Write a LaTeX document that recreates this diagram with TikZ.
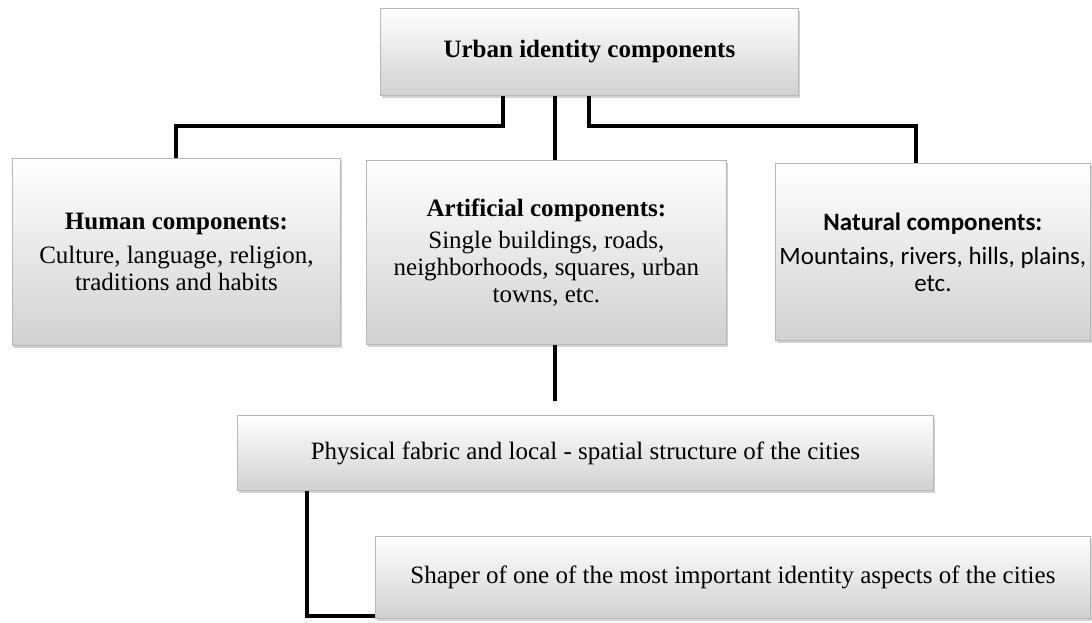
\documentclass[tikz,border=0pt]{standalone}
\usepackage{fontspec}
\setmainfont{Liberation Serif}
\newfontfamily\calibri{Carlito}
\usetikzlibrary{shadows}
\begin{document}
\begin{tikzpicture}[x=1pt,y=-1pt,
  box/.style={rectangle, draw=black!28, line width=0.8pt, top color=white, bottom color=black!18,
    drop shadow={shadow xshift=2pt, shadow yshift=-3pt, opacity=0.35},
    inner sep=0pt, anchor=north west, align=center,
    font=\fontsize{25}{27}\selectfont},
  conn/.style={line width=4pt, black}]
\useasboundingbox[fill=white] (0,0) rectangle (1092,623);
\node[box, minimum width=418pt, minimum height=87pt] (top) at (380,8) {\textbf{Urban identity components}};
\node[box, minimum width=328pt, minimum height=187pt] (hum) at (12,158)
  {\textbf{Human components:}\\[7pt]Culture, language, religion,\\traditions and habits};
\node[box, minimum width=360pt, minimum height=184pt] (art) at (366,160)
  {\textbf{Artificial components:}\\[5pt]Single buildings, roads,\\neighborhoods, squares, urban\\towns, etc.};
\node[box, minimum width=315pt, minimum height=177pt, font=\calibri\fontsize{25}{27}\selectfont] (nat) at (775,163)
  {\textbf{Natural components:}\\[7pt]Mountains, rivers, hills, plains,\\etc.};
\node[box, minimum width=696pt, minimum height=75pt] (phys) at (237,415)
  {Physical fabric and local - spatial structure of the cities};
\node[box, minimum width=715pt, minimum height=82pt] (shp) at (375,536)
  {Shaper of one of the most important identity aspects of the cities};
\coordinate (m0) at ([xshift=123pt]top.south west);
\coordinate (m1) at ([xshift=175pt]top.south west);
\coordinate (m2) at ([xshift=209pt]top.south west);
\draw[conn] (m0) -- ++(0,30) -| (hum.north);
\draw[conn] (m1) -- (m1 |- art.north);
\draw[conn] (m2) -- ++(0,30) -| ([xshift=141pt]nat.north west);
\draw[conn, shorten >=14pt] (m1 |- art.south) -- (m1 |- phys.north);
\draw[conn] ([xshift=70pt]phys.south west) |- ([yshift=3pt]shp.south west);
\end{tikzpicture}
\end{document}
